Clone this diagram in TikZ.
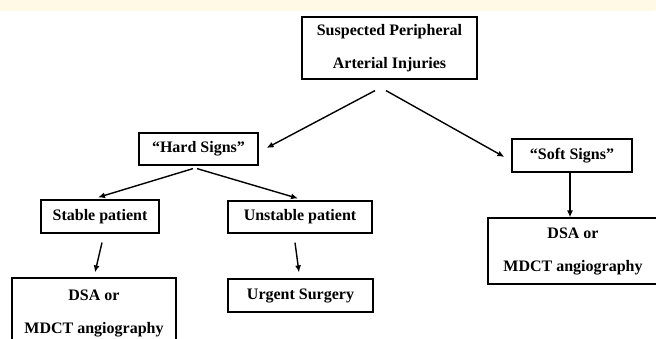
\documentclass[tikz,border=0pt]{standalone}
\usepackage{fontspec}
\setmainfont{Liberation Serif}
\usetikzlibrary{arrows.meta}
\definecolor{band}{RGB}{255,249,230}
\tikzset{
  box/.style={draw=black, line width=1.2pt, inner sep=0pt, align=center,
    font=\bfseries\fontsize{16}{33}\selectfont},
  arr/.style={-{Latex[length=7pt,width=6pt]}, line width=1.4pt}
}
\begin{document}
\begin{tikzpicture}[x=1pt,y=-1pt]
\useasboundingbox (0,0) rectangle (656,339);
\clip (0,0) rectangle (656,339);
\fill[band, rounded corners=3pt] (-5,-5) rectangle (656,11);
\node[box, minimum width=175pt, minimum height=62pt] (top) at (389.5,48) {Suspected Peripheral\\Arterial Injuries};
\node[box, minimum width=119pt, minimum height=32pt] (hard) at (198.5,149) {“Hard Signs”};
\node[box, minimum width=120pt, minimum height=33pt] (soft) at (572,155.5) {“Soft Signs”};
\node[box, minimum width=118pt, minimum height=33pt] (stable) at (100,216.5) {Stable patient};
\node[box, minimum width=144pt, minimum height=32pt] (unstable) at (300,217) {Unstable patient};
\node[box, minimum width=145pt, minimum height=33pt] (urgent) at (300.5,295.5) {Urgent Surgery};
\node[box, minimum width=164pt, minimum height=70pt] (dsaL) at (94,313) {DSA or\\MDCT angiography};
\node[box, minimum width=170pt, minimum height=66pt] (dsaR) at (573,251) {DSA or\\MDCT angiography};
\draw[arr] ([shift={(-14.5,11)}]top.south) -- ([shift={(8,-1)}]hard.east);
\draw[arr] ([shift={(-3.5,11)}]top.south) -- ([shift={(-7,1.5)}]soft.west);
\draw[arr] ([shift={(-5.5,3)}]hard.south) -- ([shift={(-2,-2)}]stable.north);
\draw[arr] ([shift={(-1.5,3)}]hard.south) -- ([shift={(-2,-2)}]unstable.north);
\draw[arr] ([shift={(2,9)}]stable.south) -- ([shift={(1,-5)}]dsaL.north);
\draw[arr] ([shift={(-5,9)}]unstable.south) -- ([shift={(-1.5,-6)}]urgent.north);
\draw[arr] ([shift={(-2,0)}]soft.south) -- ([shift={(-3,0)}]dsaR.north);
\end{tikzpicture}
\end{document}
